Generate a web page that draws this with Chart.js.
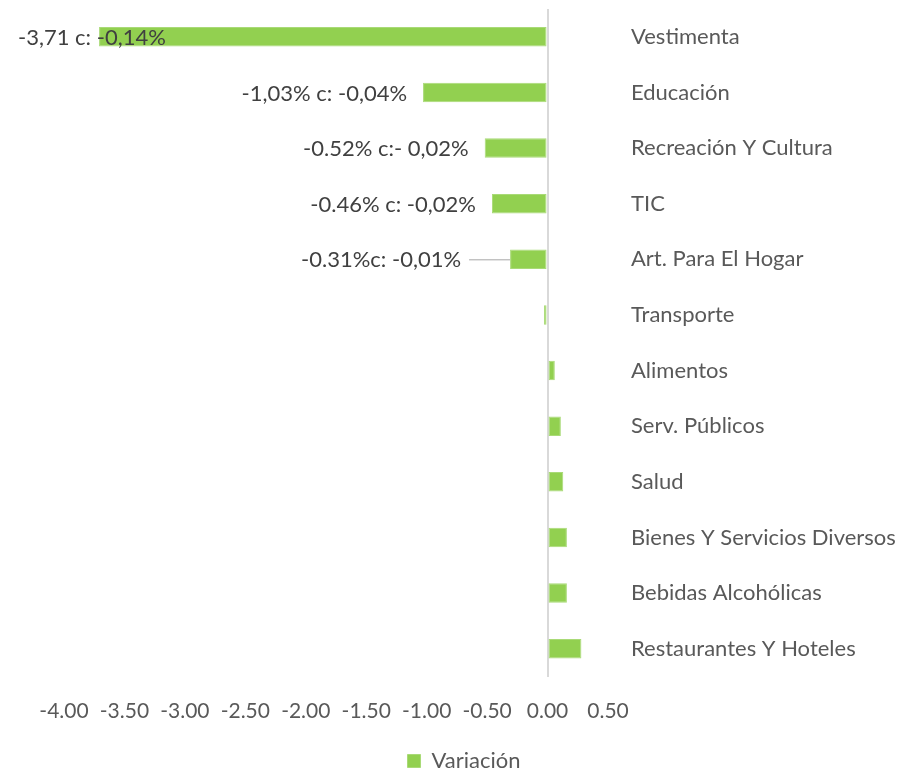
<!DOCTYPE html>
<html>
<head>
<meta charset="utf-8">
<script src="https://cdn.jsdelivr.net/npm/chart.js@4/dist/chart.umd.min.js"></script>
<style>
  html, body { margin: 0; padding: 0; background: #fff; }
</style>
</head>
<body>
<canvas id="myChart" width="900" height="771"></canvas>
<script>
// Categories, top to bottom
const categories = [
    'Vestimenta',
    'Educación',
    'Recreación Y Cultura',
    'TIC',
    'Art. Para El Hogar',
    'Transporte',
    'Alimentos',
    'Serv. Públicos',
    'Salud',
    'Bienes Y Servicios Diversos',
    'Bebidas Alcohólicas',
    'Restaurantes Y Hoteles'
];

// Variación (%)
const variacion = [-3.71, -1.03, -0.52, -0.46, -0.31, -0.03, 0.06, 0.11, 0.13, 0.16, 0.16, 0.28];

// Custom data labels (only the first five bars have one)
const barLabels = [
    '-3,71 c: -0,14%',
    '-1,03% c: -0,04%',
    '-0.52% c:- 0,02%',
    '-0.46% c: -0,02%',
    '-0.31%c: -0,01%',
    '', '', '', '', '', '', ''
];

const xMin = -4;
const xMax = 0.5;
const xStep = 0.5;

const FONT = 'Lato';
const green = '#92d050';

// Draws the custom labels next to the bars (label 4 has a leader line)
const barLabelPlugin = {
    id: 'barLabels',
    afterDatasetsDraw(chart) {
        const ctx = chart.ctx;
        const meta = chart.getDatasetMeta(0);
        ctx.save();
        ctx.font = '22px ' + FONT;
        ctx.fillStyle = '#404040';
        ctx.textAlign = 'left';
        ctx.textBaseline = 'middle';
        meta.data.forEach((bar, i) => {
            let txt = barLabels[i];
            if (!txt) return;
            let w = ctx.measureText(txt).width;
            let gap = 16;
            if (i === 4) {
                // leader line
                ctx.strokeStyle = '#a6a6a6';
                ctx.lineWidth = 1;
                ctx.beginPath();
                ctx.moveTo(bar.x - 41, bar.y + 0.5);
                ctx.lineTo(bar.x, bar.y + 0.5);
                ctx.stroke();
                gap = 49;
            }
            let x = Math.max(18, bar.x - gap - w);
            ctx.fillText(txt, x, bar.y + 1);
        });
        ctx.restore();
    }
};

// Nudge the legend to where the original sits
const legendShift = {
    id: 'legendShift',
    afterLayout(chart) {
        const lg = chart.legend;
        lg.left -= 18; lg.right -= 18;
        lg.top += 11; lg.bottom += 11;
    }
};

const data = {
    labels: categories,
    datasets: [
        {
            label: 'Variación',
            data: variacion,
            backgroundColor: green,
            borderColor: '#a9da77',
            borderWidth: 1,
            borderSkipped: false,
            barPercentage: 0.35,
            categoryPercentage: 1.0
        }
    ]
};

const config = {
    type: 'bar',
    data: data,
    options: {
        indexAxis: 'y',
        responsive: false,
        animation: false,
        layout: { padding: { left: 64, top: 9, right: 0, bottom: 0 } },
        scales: {
            x: {
                min: xMin,
                max: xMax,
                ticks: {
                    stepSize: xStep,
                    padding: 22,
                    color: '#595959',
                    font: { family: FONT, size: 21 },
                    callback: v => Number(v).toFixed(2),
                    maxRotation: 0
                },
                grid: {
                    drawTicks: false,
                    lineWidth: 2,
                    color: c => (Math.abs(c.tick.value) < 1e-9 ? '#d9d9d9' : 'rgba(0,0,0,0)')
                },
                border: { display: false },
                afterFit: s => { s.height = 52.5; }
            },
            y: {
                position: 'right',
                grid: { display: false, drawTicks: false },
                border: { display: false },
                ticks: {
                    padding: 23,
                    color: '#595959',
                    font: { family: FONT, size: 22 }
                },
                afterFit: s => {
                    s.width = 292;
                    s.paddingTop = 0;
                    s.paddingBottom = 0;
                }
            }
        },
        plugins: {
            legend: {
                position: 'bottom',
                labels: {
                    boxWidth: 13,
                    boxHeight: 13,
                    padding: 10,
                    color: '#595959',
                    font: { family: FONT, size: 22 }
                }
            },
            tooltip: { enabled: false }
        }
    },
    plugins: [barLabelPlugin, legendShift]
};

const myChart = new Chart(
    document.getElementById('myChart'),
    config
);
</script>
</body>
</html>
